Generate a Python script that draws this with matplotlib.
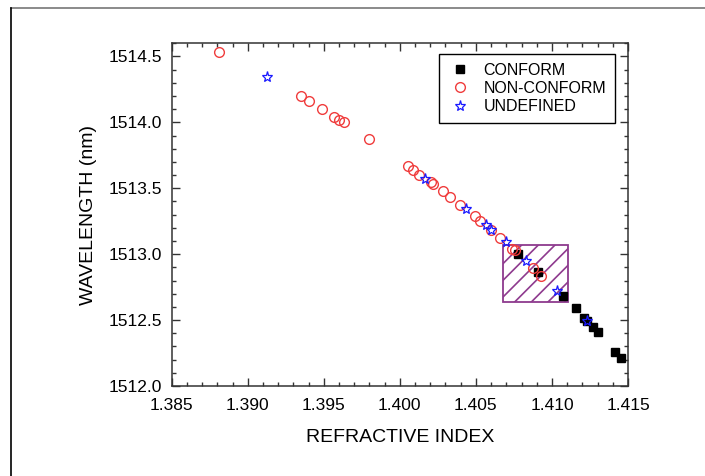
import matplotlib
matplotlib.use('Agg')
import matplotlib.pyplot as plt
from matplotlib.lines import Line2D
from matplotlib.patches import Rectangle
from matplotlib.ticker import MultipleLocator, FormatStrFormatter

plt.rcParams['font.family'] = ['Liberation Sans', 'DejaVu Sans']
plt.rcParams['hatch.color'] = '#8e3a8e'
plt.rcParams['hatch.linewidth'] = 1.2

# conform samples
conform_n = [1.4078, 1.4091, 1.41075, 1.41156, 1.41211, 1.41228, 1.41272, 1.41301, 1.41415, 1.41454]
conform_w = [1513.005, 1512.866, 1512.682, 1512.589, 1512.518, 1512.492, 1512.449, 1512.411, 1512.260, 1512.210]

# non-conform samples
nonconf_n = [1.38813, 1.39348, 1.39401, 1.39488, 1.39565, 1.39602, 1.39631, 1.39799,
             1.40056, 1.40089, 1.40128, 1.40203, 1.40216, 1.40282, 1.40330, 1.40396,
             1.40492, 1.40527, 1.40600, 1.40659, 1.40735, 1.40760, 1.40877, 1.40928]
nonconf_w = [1514.533, 1514.197, 1514.159, 1514.098, 1514.040, 1514.015, 1514.000, 1513.871,
             1513.667, 1513.642, 1513.604, 1513.545, 1513.530, 1513.477, 1513.434, 1513.377,
             1513.288, 1513.255, 1513.185, 1513.124, 1513.043, 1513.030, 1512.892, 1512.836]

# undefined samples
undef_n = [1.39127, 1.40165, 1.40435, 1.40564, 1.40597, 1.40697, 1.40829, 1.41035, 1.41228]
undef_w = [1514.341, 1513.573, 1513.343, 1513.220, 1513.182, 1513.091, 1512.947, 1512.720, 1512.495]

# shaded region (n_min, n_max, w_min, w_max)
box_n = (1.40676, 1.41108)
box_w = (1512.639, 1513.073)

fig = plt.figure(figsize=(7.05, 4.76), dpi=100)
ax = fig.add_axes([0.2435, 0.1891, 0.6473, 0.7199])

ax.add_patch(Rectangle((box_n[0], box_w[0]), box_n[1] - box_n[0], box_w[1] - box_w[0],
                       facecolor='none', edgecolor='#8e3a8e', hatch='//', lw=1.3, zorder=1))

ax.plot(conform_n, conform_w, 's', color='black', ms=6, ls='none', label='CONFORM', zorder=3)
ax.plot(nonconf_n, nonconf_w, 'o', mfc='none', mec='#f03c3c', mew=1.0, ms=7, ls='none',
        label='NON-CONFORM', zorder=3)
ax.plot(undef_n, undef_w, '*', mfc='none', mec='#1a1aff', mew=0.9, ms=8, ls='none',
        label='UNDEFINED', zorder=4)

ax.set_xlim(1.385, 1.415)
ax.set_ylim(1512.0, 1514.6)
ax.xaxis.set_major_locator(MultipleLocator(0.005))
ax.xaxis.set_minor_locator(MultipleLocator(0.001))
ax.yaxis.set_major_locator(MultipleLocator(0.5))
ax.yaxis.set_minor_locator(MultipleLocator(0.1))
ax.xaxis.set_major_formatter(FormatStrFormatter('%.3f'))
ax.yaxis.set_major_formatter(FormatStrFormatter('%.1f'))
ax.tick_params(which='both', direction='in', top=True, right=True, color='#333333', labelsize=12.5)
ax.tick_params(which='major', length=6, width=1)
ax.tick_params(which='minor', length=3, width=1)
ax.tick_params(axis='x', which='major', pad=9)
ax.tick_params(axis='y', which='major', pad=7)
for s in ax.spines.values():
    s.set_color('#333333')
    s.set_linewidth(1.1)

ax.set_xlabel('REFRACTIVE INDEX', fontsize=14, labelpad=11)
ax.set_ylabel('WAVELENGTH (nm)', fontsize=14, labelpad=8)

leg = ax.legend(loc='upper right', bbox_to_anchor=(0.9715, 0.9688), borderaxespad=0,
                fancybox=False, edgecolor='black', fontsize=11.5, labelspacing=0.2,
                handletextpad=0.67, borderpad=0.55, framealpha=1, handlelength=1.55)
leg.get_frame().set_linewidth(1.0)

# page frame lines
fig.add_artist(Line2D([0.0156, 1.0], [0.983, 0.983], color='#777777', lw=1.2))
fig.add_artist(Line2D([0.0156, 0.0156], [0.0, 0.983], color='black', lw=1.2))

fig.savefig('out.png', dpi=100)
